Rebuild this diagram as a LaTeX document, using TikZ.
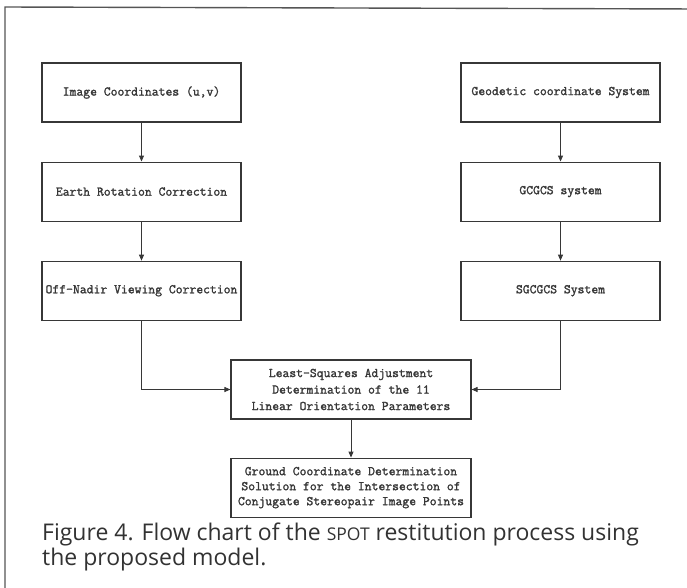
\documentclass[tikz,border=0pt]{standalone}
\usepackage{fontspec}
\setmainfont{Open Sans}
\newfontfamily\boxfont{Latin Modern Mono}[FakeBold=1.6]
\usepackage{tikz}
\usetikzlibrary{arrows.meta,positioning}
\usepackage{xcolor}
\definecolor{inkgray}{RGB}{55,55,55}
\definecolor{framegray}{RGB}{85,85,85}
\definecolor{capgray}{RGB}{50,50,50}

\begin{document}
\begin{tikzpicture}[x=1pt, y=-1pt, >={Triangle[width=5pt,length=6pt]},
  node distance=39pt,
  box/.style={draw=inkgray, line width=1.1pt, minimum width=199pt, minimum height=59pt,
    inner sep=2pt, align=center, font=\boxfont\fontsize{13.3}{16.5}\selectfont, text=inkgray},
  widebox/.style={box, minimum width=240pt},
  link/.style={->, inkgray, line width=0.9pt}]
  \useasboundingbox (0,0) rectangle (687,587);
  % outer frame (only left and top edges are inside the page)
  \draw[framegray, line width=1.4pt] (5,600) -- (5,7) -- (700,9);

  % left column
  \node[box] (img) at (141.5,92.5) {Image Coordinates (u,v)};
  \node[box, below=of img] (earth) {Earth Rotation Correction};
  \node[box, below=of earth] (nadir) {Off-Nadir Viewing Correction};

  % right column
  \node[box] (geo) at (560.5,92.5) {Geodetic coordinate System};
  \node[box, below=of geo] (gcgcs) {GCGCS system};
  \node[box, below=of gcgcs] (sgcgcs) {SGCGCS System};

  % lower part
  \node[widebox] (lsq) at (351,389.5) {Least-Squares Adjustment\\Determination of the 11\\Linear Orientation Parameters};
  \node[widebox, below=38pt of lsq, font=\boxfont\fontsize{13.3}{15}\selectfont] (ground) {Ground Coordinate Determination\\Solution for the Intersection of\\Conjugate Stereopair Image Points};

  \draw[link] (img) -- (earth);
  \draw[link] (earth) -- (nadir);
  \draw[link] (geo) -- (gcgcs);
  \draw[link] (gcgcs) -- (sgcgcs);
  \draw[link] (nadir.south) |- (lsq.west);
  \draw[link] (sgcgcs.south) |- (lsq.east);
  \draw[link] (lsq) -- (ground);

  % caption (base anchor sits on the last line)
  \node[anchor=base west, inner sep=0pt, align=left, text=capgray,
    font=\fontsize{23}{25}\selectfont] (caption) at (42,565)
    {Figure 4. Flow chart of the {\fontsize{17.5}{25}\selectfont SPOT} restitution process using\\the proposed model.};
\end{tikzpicture}
\end{document}
